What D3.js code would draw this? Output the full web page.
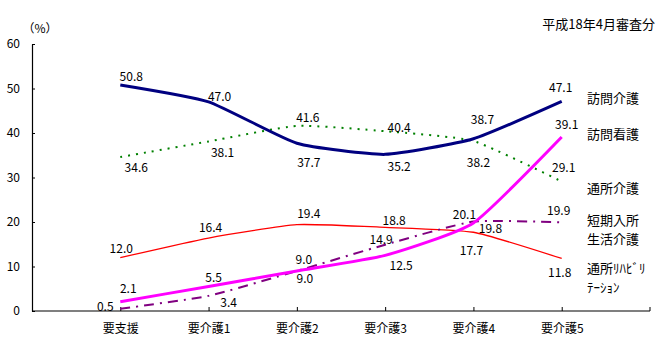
<!DOCTYPE html>
<html><head><meta charset="utf-8">
<script src="https://cdn.jsdelivr.net/npm/d3@7"></script>
<style>
body{margin:0;background:#fff;}
text{font-family:"Noto Sans CJK JP",sans-serif;fill:#000;}
</style></head>
<body><svg id="c" width="665" height="342"></svg>
<script>
const categories = ["要支援","要介護1","要介護2","要介護3","要介護4","要介護5"];
const homonKaigo = [50.8, 47.0, 37.7, 35.2, 38.7, 47.1];
const tsushoKaigo = [34.6, 38.1, 41.6, 40.4, 38.2, 29.1];
const tsushoReha = [12.0, 16.4, 19.4, 18.8, 17.7, 11.8];
const homonKango = [2.1, 5.5, 9.0, 12.5, 19.8, 39.1];
const tankiNyusho = [0.5, 3.4, 9.0, 14.9, 20.1, 19.9];
const yTicks = [0, 10, 20, 30, 40, 50, 60];
const title = "平成18年4月審査分";
const unitLabel = "（%）";

// label offsets (dx, dy) relative to each point
const offHomonKaigo = [[11,-9],[11,-6],[12,18],[14,11],[9,-20],[-1,-15]];
const offTsushoKaigo = [[16,9],[14,10],[11,-9],[14,-5],[5,20],[2,-15]];
const offTsushoReha = [[1,-10],[2,-12],[12,-12],[9,-8],[-2,17],[-2,13]];
const offHomonKango = [[8,-14],[5,-10],[8,7],[16,9],[17,5],[5,-14]];
const offTanki = [[-15,-3],[20,6],[7,-12],[-4,-6],[-9,-8],[-3,-13]];

const svg = d3.select("#c");
const mLeft = 32, mRight = 650, mTop = 44, mBottom = 311;
const step = (mRight - mLeft) / (categories.length + 1);
const x = d3.scalePoint().domain(categories).range([mLeft + step, mRight - step]);
const y = d3.scaleLinear().domain([0, 60]).range([mBottom, mTop]);

// y axis
const ya = svg.append("g").attr("transform", `translate(${mLeft},0)`)
  .call(d3.axisLeft(y).tickValues(yTicks).tickSizeInner(-3).tickSizeOuter(0).tickPadding(12).tickFormat(d3.format("d")));
ya.select(".domain").attr("stroke", "#000").attr("stroke-width", 1.2);
ya.selectAll(".tick line").attr("stroke", "#000");
ya.selectAll("text").style("font-size", "12px").attr("fill", "#000");

// x axis
const xa = svg.append("g").attr("transform", `translate(0,${mBottom})`)
  .call(d3.axisBottom(x).tickSizeInner(-4).tickSizeOuter(0).tickPadding(13));
xa.select(".domain").attr("d", `M${mLeft},0H${mRight}`).attr("stroke", "#000").attr("stroke-width", 1.2);
xa.selectAll(".tick line").attr("stroke", "#000");
xa.selectAll("text").style("font-size", "12px").attr("fill", "#000");
xa.append("line").attr("x1", mRight).attr("x2", mRight).attr("y1", 0).attr("y2", -4).attr("stroke", "#000");

const line = d3.line().x((d, i) => x(categories[i])).y(d => y(d)).curve(d3.curveCardinal.tension(0.5));

const series = [
  {vals: tsushoKaigo, off: offTsushoKaigo, color: "#008000", w: 2, dash: "2,6"},
  {vals: tsushoReha, off: offTsushoReha, color: "#ff0000", w: 1.3, dash: null},
  {vals: tankiNyusho, off: offTanki, color: "#800080", w: 2, dash: "10,6,2,6"},
  {vals: homonKaigo, off: offHomonKaigo, color: "#000080", w: 3, dash: null},
  {vals: homonKango, off: offHomonKango, color: "#ff00ff", w: 3, dash: null}
];

series.forEach(s => {
  svg.append("path").datum(s.vals).attr("d", line).attr("fill", "none")
    .attr("stroke", s.color).attr("stroke-width", s.w)
    .attr("stroke-dasharray", s.dash);
});
series.forEach(s => {
  svg.append("g").selectAll("text").data(s.vals).join("text")
    .attr("x", (d, i) => x(categories[i]) + s.off[i][0])
    .attr("y", (d, i) => y(d) + s.off[i][1])
    .attr("text-anchor", "middle").attr("dominant-baseline", "central")
    .style("font-size", "12px").text(d => d.toFixed(1));
});

// title & unit
svg.append("text").attr("x", 655).attr("y", 23).attr("text-anchor", "end")
  .attr("dominant-baseline", "central").style("font-size", "13px").text(title);
svg.append("text").attr("x", 40).attr("y", 27).attr("text-anchor", "middle")
  .attr("dominant-baseline", "central").style("font-size", "12px").text(unitLabel);

// series names
const legendNames = ["訪問介護", "訪問看護", "通所介護", "短期入所", "生活介護", "通所ﾘﾊﾋﾞﾘ", "ﾃｰｼｮﾝ"];
const legendY = [97, 133, 187, 219, 238, 267, 286];
legendNames.forEach((n, i) => {
  svg.append("text").attr("x", 587).attr("y", legendY[i]).attr("dominant-baseline", "central")
    .style("font-size", "13px").text(n);
});
</script></body></html>
